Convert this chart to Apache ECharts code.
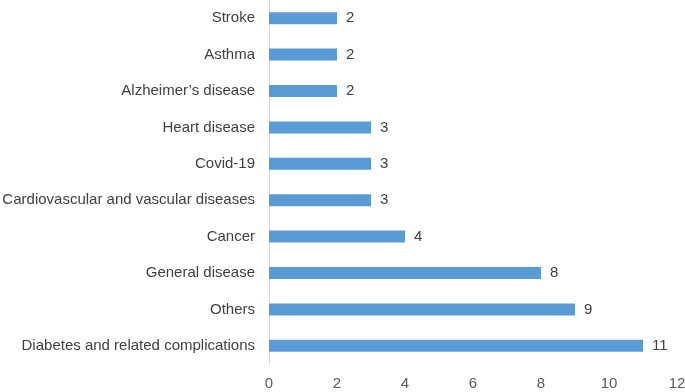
<!DOCTYPE html>
<html>
<head>
<meta charset="utf-8">
<script src="https://cdn.jsdelivr.net/npm/echarts@6/dist/echarts.min.js"></script>
<style>
  html, body { margin: 0; padding: 0; background: #fff; }
  #main { width: 685px; height: 392px; }
</style>
</head>
<body>
<div id="main"></div>
<script>
// categories listed bottom to top
var diseases = [
  "Diabetes and related complications",
  "Others",
  "General disease",
  "Cancer",
  "Cardiovascular and vascular diseases",
  "Covid-19",
  "Heart disease",
  "Alzheimer\u2019s disease",
  "Asthma",
  "Stroke"
];
var counts = [11, 9, 8, 4, 3, 3, 3, 2, 2, 2];
var xTicks = [0, 2, 4, 6, 8, 10, 12];

var font = "Liberation Sans, Arial, sans-serif";
var myChart = echarts.init(document.getElementById("main"));

myChart.setOption({
  animation: false,
  grid: {
    left: 269, right: 8, top: 0, bottom: 28,
    containLabel: false,
    outerBoundsMode: "none"
  },
  xAxis: {
    type: "value",
    min: xTicks[0],
    max: xTicks[xTicks.length - 1],
    interval: 2,
    axisLine: { show: false },
    axisTick: { show: false },
    splitLine: { show: false },
    axisLabel: { color: "#595959", fontSize: 15, fontFamily: font, margin: 12 }
  },
  yAxis: {
    type: "category",
    data: diseases,
    axisLine: { show: true, lineStyle: { color: "#d9d9d9", width: 1 } },
    axisTick: { show: false },
    axisLabel: { color: "#404040", fontSize: 15, fontFamily: font, margin: 14 }
  },
  series: [{
    type: "bar",
    data: counts,
    barWidth: 12,
    itemStyle: { color: "#5b9bd5" },
    label: {
      show: true,
      position: "right",
      distance: 9,
      color: "#404040",
      fontSize: 15,
      fontFamily: font
    }
  }]
});
</script>
</body>
</html>
